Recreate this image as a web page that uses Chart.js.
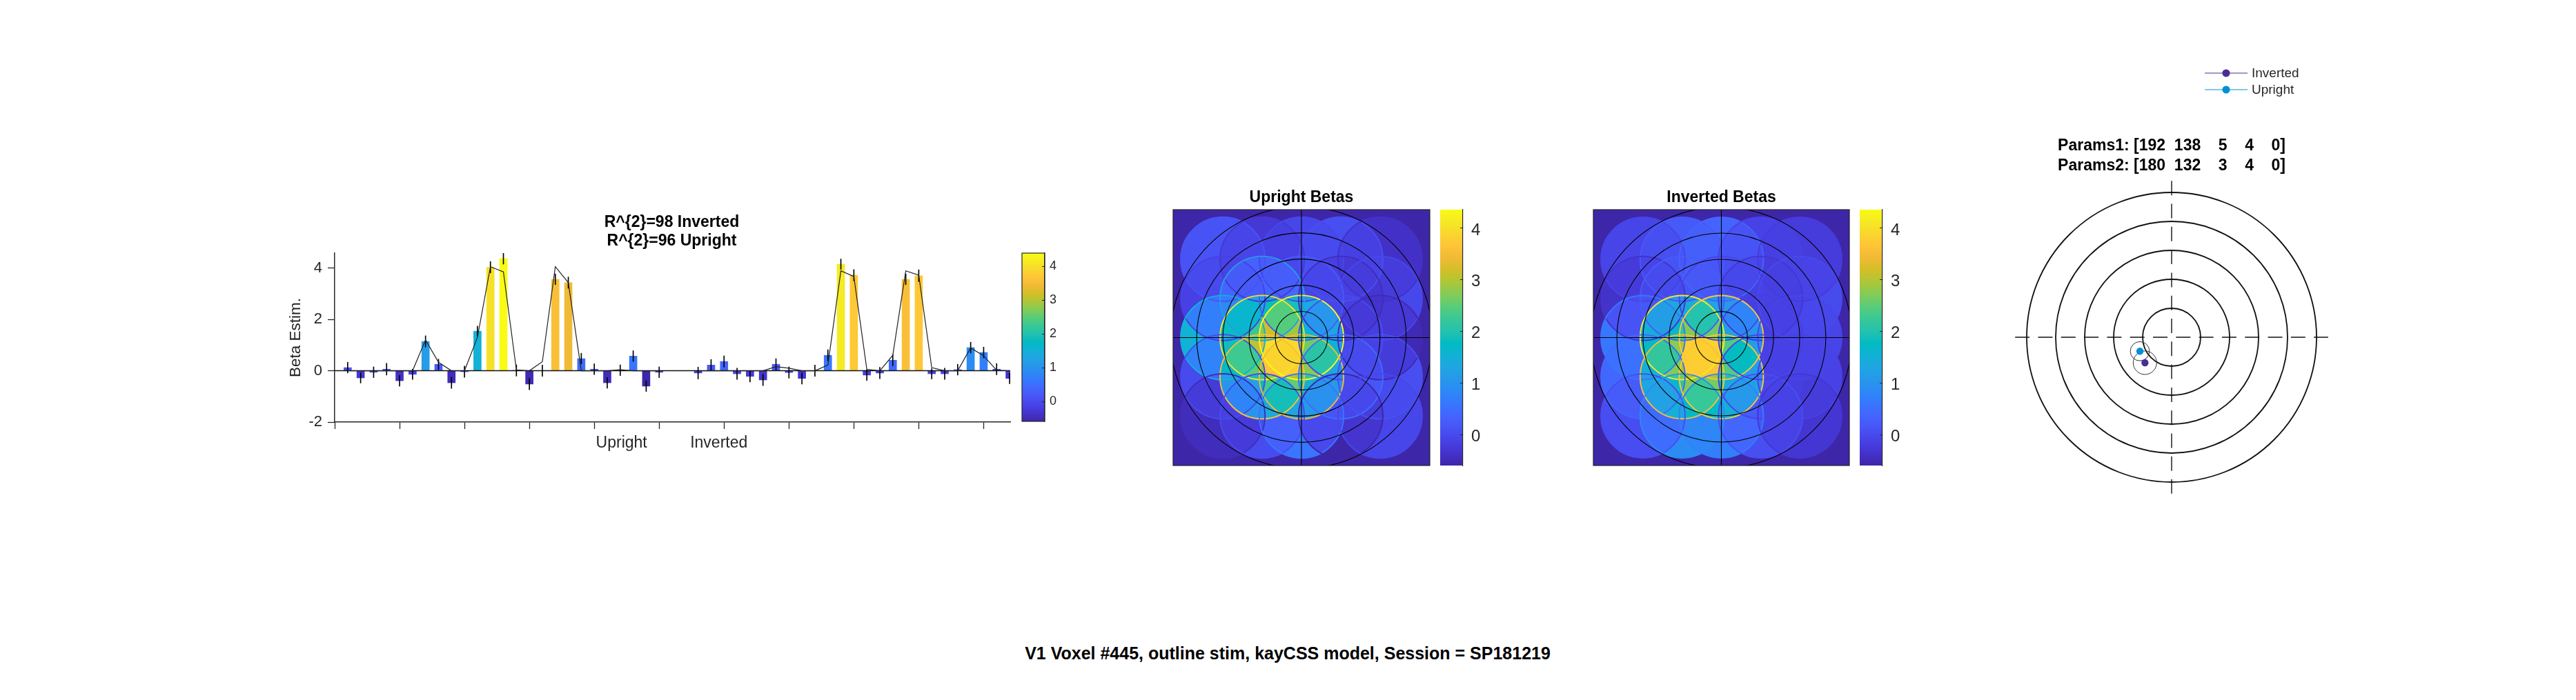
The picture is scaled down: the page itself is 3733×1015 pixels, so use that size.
<!DOCTYPE html>
<html>
<head>
<meta charset="utf-8">
<script src="https://cdn.jsdelivr.net/npm/chart.js@4/dist/chart.umd.js"></script>
<style>
  html, body { margin: 0; padding: 0; background: #fff; width: 3733px; height: 1015px; overflow: hidden; }
  canvas { position: absolute; }
  #supTitle { position: absolute; left: 0; width: 3732px; top: 933px; text-align: center;
    font: bold 25px "Liberation Sans", sans-serif; color: #000; }
</style>
</head>
<body>
<canvas id="barChart"></canvas>
<canvas id="barColorbar"></canvas>
<canvas id="uprightMap"></canvas>
<canvas id="uprightColorbar"></canvas>
<canvas id="invertedMap"></canvas>
<canvas id="invertedColorbar"></canvas>
<canvas id="targetChart"></canvas>
<div id="supTitle">V1 Voxel #445, outline stim, kayCSS model, Session = SP181219</div>
<script>
// betas per stimulus position, row by row on the 5x5 grid
const uprightBetas = [0.12, -0.28, -0.06, 0.06, -0.39, -0.14, 1.14, 0.25, -0.47, -0.04, 1.54, 4.03, 4.37, 0.01, -0.52, 0.0, 3.56, 3.43, 0.47, 0.06, -0.47, 0.02, 0.57, -0.60, -0.06]
const invertedBetas = [-0.09, 0.22, 0.36, -0.12, -0.22, -0.36, 0.25, -0.07, -0.30, 0.0, 0.60, 4.15, 3.72, -0.17, -0.09, 0.41, 3.56, 3.70, -0.12, -0.12, 0.04, 0.90, 0.71, 0.06, -0.30]
const uprightErr = [0.21, 0.2, 0.21, 0.23, 0.21, 0.2, 0.22, 0.2, 0.22, 0.22, 0.2, 0.22, 0.22, 0.22, 0.22, 0.22, 0.21, 0.22, 0.21, 0.21, 0.21, 0.21, 0.21, 0.21, 0.21]
const invertedErr = [0.23, 0.22, 0.22, 0.22, 0.22, 0.22, 0.22, 0.22, 0.22, 0.22, 0.22, 0.2, 0.22, 0.21, 0.22, 0.22, 0.21, 0.23, 0.2, 0.22, 0.21, 0.21, 0.21, 0.22, 0.21]
const uprightFit = [0, 0, 0, 0, 0, 0, 1.2, 0.33, 0, 0, 1.3, 4.05, 3.85, 0.03, 0, 0.35, 4.05, 3.43, 0, 0, 0, 0.04, 0, 0, 0]
const invertedFit = [0, 0, 0, 0, 0, 0, 0.16, 0.10, 0, 0, 0.22, 3.89, 3.67, 0.05, 0, 0.6, 3.89, 3.72, 0.12, 0, 0, 0.89, 0.58, 0.02, 0]
const uprightX = [1, 2, 3, 4, 5, 6, 7, 8, 9, 10, 11, 12, 13, 14, 15, 16, 17, 18, 19, 20, 21, 22, 23, 24, 25]
const invertedX = [28, 29, 30, 31, 32, 33, 34, 35, 36, 37, 38, 39, 40, 41, 42, 43, 44, 45, 46, 47, 48, 49, 50, 51, 52]
const barXTicks = [0, 5, 10, 15, 20, 25, 30, 35, 40, 45, 50]
const barYTicks = [-2, 0, 2, 4]
const groupLabels = ['Upright', 'Inverted']
const groupLabelX = [22.1, 29.6]
const barTitle = ['R^{2}=98 Inverted', 'R^{2}=96 Upright']

const gridCols = [-3, -1.5, 0, 1.5, 3]
const gridRows = [3, 1.5, 0, -1.5, -3]
const stimRadius = 1.61
const ringRadii = [1, 2, 3, 4, 5]
const colorbarTicks = [0, 1, 2, 3, 4]

const pointNames = ['Inverted', 'Upright']
const pointX = [-0.92, -1.095]
const pointY = [-0.88, -0.483]
const pointSpread = [0.405, 0.33]
const pointColors = ['#4b2e95', '#0090d8']
const paramsText = ['Params1: [192  138    5    4    0]', 'Params2: [180  132    3    4    0]']

const cMin = -0.6
const cMax = 4.36
const FONT = '"Liberation Sans", sans-serif'
const INK = '#262626'

// parula, every third entry
const parula = [[.2422,.1504,.6603],[.2647,.1978,.7952],[.2783,.2559,.8991],[.2810,.3228,.9579],[.2699,.3892,.9906],[.2206,.4603,.9973],[.1786,.5289,.9682],[.1540,.5902,.9218],[.1248,.6459,.8883],[.0689,.6948,.8394],[.0067,.7312,.7660],[.1408,.7584,.6842],[.2161,.7843,.5923],[.3406,.8008,.4789],[.5044,.7993,.3480],[.6720,.7793,.2227],[.8203,.7498,.1535],[.9393,.7288,.2100],[.9970,.7659,.2199],[.9786,.8386,.1766],[.9597,.9135,.1423],[.9769,.9839,.0805]]

function parulaRgb(v) {
  const t = Math.min(1, Math.max(0, (v - cMin) / (cMax - cMin))) * (parula.length - 1)
  const i = Math.min(parula.length - 2, Math.floor(t))
  const f = t - i
  return [0, 1, 2].map(k => Math.round(255 * (parula[i][k] + f * (parula[i + 1][k] - parula[i][k]))))
}
const parulaCss = v => { const c = parulaRgb(v); return `rgb(${c[0]},${c[1]},${c[2]})` }

// put a canvas so that its plot area lands on a known box
function place(id, box, m) {
  const c = document.getElementById(id)
  c.width = box.r - box.l + m.l + m.r
  c.height = box.b - box.t + m.t + m.b
  c.style.left = (box.l - m.l) + 'px'
  c.style.top = (box.t - m.t) + 'px'
  c.style.width = c.width + 'px'
  c.style.height = c.height + 'px'
  return c
}

const baseOptions = m => ({
  responsive: false,
  animation: false,
  devicePixelRatio: 1,
  layout: { autoPadding: false, padding: { left: m.l, top: m.t, right: m.r, bottom: m.b } },
  plugins: { legend: { display: false }, tooltip: { enabled: false } },
})

function text(ctx, str, x, y, font, color, align) {
  ctx.save()
  ctx.font = font
  ctx.fillStyle = color || '#000'
  ctx.textAlign = align || 'center'
  ctx.textBaseline = 'middle'
  ctx.fillText(str, x, y)
  ctx.restore()
}

// ---- bars
function drawBarChart() {
  const box = { l: 485, t: 367, r: 1464, b: 612 }
  const m = { l: 85, t: 60, r: 2, b: 50 }
  const canvas = place('barChart', box, m)
  const xy = (xs, ys) => xs.map((x, i) => ({ x, y: ys[i] }))
  const errs = (xs, ys, es) => xs.map((x, i) => ({ x, y: [ys[i] - es[i], ys[i] + es[i]] }))
  const errSet = (xs, ys, es) => ({ type: 'bar', data: errs(xs, ys, es), backgroundColor: '#000', barThickness: 1, grouped: false })
  const barSet = (xs, ys) => ({ type: 'bar', data: xy(xs, ys), backgroundColor: ys.map(parulaCss), barThickness: 11, grouped: false })
  const fitSet = (xs, ys) => ({ type: 'line', data: xy(xs, ys), borderColor: '#222', borderWidth: 1.2, pointRadius: 0, tension: 0 })
  const opts = baseOptions({ l: 0, t: m.t, r: m.r, b: 0 })
  opts.scales = {
    x: {
      type: 'linear', min: 0, max: 52.05, offset: false,
      afterBuildTicks: s => { s.ticks = barXTicks.map(value => ({ value })) },
      afterFit: s => { s.height = m.b },
      grid: { offset: false, drawOnChartArea: false, tickLength: 10, tickColor: INK, tickWidth: 1.3 },
      border: { color: INK, width: 1.5 },
      ticks: { callback: () => '', maxRotation: 0, autoSkip: false },
    },
    y: {
      min: -2, max: 4.58,
      afterBuildTicks: s => { s.ticks = barYTicks.map(value => ({ value })) },
      afterFit: s => { s.width = m.l },
      grid: { drawOnChartArea: false, tickLength: 10, tickColor: INK, tickWidth: 1.3 },
      border: { color: INK, width: 1.5 },
      ticks: { color: INK, padding: 8, font: { family: FONT, size: 22 } },
      title: { display: true, text: 'Beta Estim.', color: INK, padding: { top: 15, bottom: 0 }, font: { family: FONT, size: 22.5 } },
    },
  }
  const labels = {
    id: 'labels',
    afterDraw(chart) {
      const { ctx, scales } = chart
      const cx = (chart.chartArea.left + chart.chartArea.right) / 2
      barTitle.forEach((t, i) => text(ctx, t, cx - 1, 323 + i * 27 - (box.t - m.t), `bold 23px ${FONT}`, '#000'))
      groupLabels.forEach((t, i) => text(ctx, t, scales.x.getPixelForValue(groupLabelX[i]), box.b + 31 - (box.t - m.t), `23px ${FONT}`, INK))
    },
  }
  new Chart(canvas, {
    type: 'bar',
    data: {
      datasets: [
        fitSet(uprightX, uprightFit),
        fitSet(invertedX, invertedFit),
        errSet(uprightX, uprightBetas, uprightErr),
        errSet(invertedX, invertedBetas, invertedErr),
        { type: 'line', data: [{ x: 0, y: 0 }, { x: 52.05, y: 0 }], borderColor: '#111', borderWidth: 1.4, pointRadius: 0 },
        barSet(uprightX, uprightBetas),
        barSet(invertedX, invertedBetas),
      ],
    },
    options: opts,
    plugins: [labels],
  })
}

// ---- colorbars
function drawColorbar(id, box, fontSize, boxed) {
  const m = { l: 2, t: 40, r: 60, b: 40 }
  const canvas = place(id, box, m)
  const opts = baseOptions({ l: m.l, t: m.t, r: 0, b: m.b })
  opts.scales = {
    x: { display: false, min: 0, max: 1 },
    y: {
      position: 'right', min: box.vmin, max: box.vmax,
      afterBuildTicks: s => { s.ticks = colorbarTicks.map(value => ({ value })) },
      afterFit: s => { s.width = m.r },
      grid: { drawOnChartArea: false, tickLength: -4, tickColor: INK, tickWidth: 1 },
      border: { color: INK, width: 1.2 },
      ticks: { color: INK, padding: box.pad, labelOffset: box.shift, font: { family: FONT, size: fontSize } },
    },
  }
  const ramp = {
    id: 'ramp',
    beforeDraw(chart) {
      const { ctx, chartArea: a, scales } = chart
      for (let py = Math.floor(a.top); py < a.bottom; py++) {
        ctx.fillStyle = parulaCss(scales.y.getValueForPixel(py + 0.5))
        ctx.fillRect(a.left, py, a.right - a.left, 1)
      }
    },
    afterDraw(chart) {
      if (!boxed) return
      const { ctx, chartArea: a } = chart
      ctx.strokeStyle = INK
      ctx.lineWidth = 1.2
      ctx.strokeRect(a.left, a.top, a.right - a.left, a.bottom - a.top)
    },
  }
  new Chart(canvas, { type: 'scatter', data: { datasets: [{ data: [] }] }, options: opts, plugins: [ramp] })
}

// ---- beta maps: every pixel is the mean of the stimulus circles covering it
function drawBetaMap(id, box, title, betas) {
  const m = { l: 2, t: 40, r: 2, b: 2 }
  const canvas = place(id, box, m)
  const opts = baseOptions(m)
  const range = 4.9
  opts.scales = {
    x: { display: false, min: -range, max: range },
    y: { display: false, min: -range, max: range },
  }
  const centers = betas.map((b, i) => ({ x: gridCols[i % 5], y: gridRows[Math.floor(i / 5)] }))
  const pxRadius = (ctx, r) => {
    const s = ctx.chart.scales.x
    return r / (s.max - s.min) * s.width
  }
  const field = {
    id: 'field',
    beforeDatasetsDraw(chart) {
      const { ctx, chartArea: a, scales } = chart
      const w = Math.round(a.right - a.left)
      const h = Math.round(a.bottom - a.top)
      const img = ctx.createImageData(w, h)
      for (let py = 0; py < h; py++) {
        const vy = scales.y.getValueForPixel(a.top + py + 0.5)
        for (let px = 0; px < w; px++) {
          const vx = scales.x.getValueForPixel(a.left + px + 0.5)
          let sum = 0
          let n = 0
          centers.forEach((c, i) => {
            const dx = vx - c.x
            const dy = vy - c.y
            if (dx * dx + dy * dy <= stimRadius * stimRadius) { sum += betas[i]; n++ }
          })
          const rgb = parulaRgb(n ? sum / n : cMin)
          const o = (py * w + px) * 4
          img.data[o] = rgb[0]; img.data[o + 1] = rgb[1]; img.data[o + 2] = rgb[2]; img.data[o + 3] = 255
        }
      }
      ctx.putImageData(img, Math.round(a.left), Math.round(a.top))
    },
    afterDraw(chart) {
      const { ctx, chartArea: a } = chart
      ctx.strokeStyle = INK
      ctx.lineWidth = 1.2
      ctx.strokeRect(a.left, a.top, a.right - a.left, a.bottom - a.top)
      text(ctx, title, (a.left + a.right) / 2, a.top - 17, `bold 23px ${FONT}`, '#000')
    },
  }
  new Chart(canvas, {
    type: 'scatter',
    data: {
      datasets: [
        { type: 'line', data: [{ x: -range, y: 0 }, { x: range, y: 0 }], borderColor: '#000', borderWidth: 1.1, pointRadius: 0 },
        { type: 'line', data: [{ x: 0, y: -range }, { x: 0, y: range }], borderColor: '#000', borderWidth: 1.1, pointRadius: 0 },
        {
          data: ringRadii.map(() => ({ x: 0, y: 0 })),
          pointRadius: ctx => pxRadius(ctx, ringRadii[ctx.dataIndex]),
          pointBackgroundColor: 'transparent', pointBorderColor: '#000', pointBorderWidth: 1.1,
        },
        {
          data: centers,
          pointRadius: ctx => pxRadius(ctx, stimRadius),
          pointBackgroundColor: 'transparent',
          pointBorderColor: betas.map(parulaCss),
          pointBorderWidth: 1.9,
        },
      ],
    },
    options: opts,
    plugins: [field],
  })
}

// ---- visual field target with pRF centres
function drawTarget() {
  const box = { l: 2917, t: 259, r: 3377, b: 719 }
  const m = { l: 300, t: 200, r: 40, b: 10 }
  const canvas = place('targetChart', box, m)
  const opts = baseOptions(m)
  const range = 230 / 42
  opts.scales = {
    x: { display: false, min: -range, max: range },
    y: { display: false, min: -range, max: range },
  }
  const reach = 5.4
  const pxRadius = (ctx, r) => {
    const s = ctx.chart.scales.x
    return r / (s.max - s.min) * s.width
  }
  const crossLine = pts => ({ type: 'line', data: pts, borderColor: '#111', borderWidth: 1.4, pointRadius: 0, borderDash: [21, 12.3] })
  const pointSets = pointNames.map((n, i) => ({
    label: n, data: [{ x: pointX[i], y: pointY[i] }],
    pointRadius: 5.2, pointBackgroundColor: pointColors[i], pointBorderWidth: 0,
  }))
  const annotate = {
    id: 'annotate',
    afterDraw(chart) {
      const { ctx } = chart
      const ox = box.l - m.l
      const oy = box.t - m.t
      paramsText.forEach((t, i) => text(ctx, t, 3147 - ox, 212 + i * 29 - oy, `bold 23px ${FONT}`, '#000'))
      pointNames.forEach((n, i) => {
        const y = 106 + i * 24 - oy
        ctx.strokeStyle = pointColors[i]
        ctx.lineWidth = 1
        ctx.beginPath()
        ctx.moveTo(3195 - ox, y)
        ctx.lineTo(3257 - ox, y)
        ctx.stroke()
        ctx.fillStyle = pointColors[i]
        ctx.beginPath()
        ctx.arc(3226 - ox, y, 5.6, 0, Math.PI * 2)
        ctx.fill()
        text(ctx, n, 3263 - ox, y + 1, `19px ${FONT}`, INK, 'left')
      })
    },
  }
  new Chart(canvas, {
    type: 'scatter',
    data: {
      datasets: [
        ...pointSets,
        {
          data: pointX.map((x, i) => ({ x, y: pointY[i] })),
          pointRadius: ctx => pxRadius(ctx, pointSpread[ctx.dataIndex]),
          pointBackgroundColor: 'transparent', pointBorderColor: '#333', pointBorderWidth: 1,
        },
        {
          data: ringRadii.map(() => ({ x: 0, y: 0 })),
          pointRadius: ctx => pxRadius(ctx, ringRadii[ctx.dataIndex]),
          pointBackgroundColor: 'transparent', pointBorderColor: '#111', pointBorderWidth: 1.8,
        },
        crossLine([{ x: -reach, y: 0 }, { x: reach, y: 0 }]),
        crossLine([{ x: 0, y: reach }, { x: 0, y: -reach }]),
      ],
    },
    options: opts,
    plugins: [annotate],
  })
}

drawBarChart()
drawColorbar('barColorbar', { l: 1481, t: 367, r: 1514, b: 611, vmin: -0.59, vmax: 4.39, pad: 11, shift: 0 }, 18, true)
drawBetaMap('uprightMap', { l: 1700, t: 304, r: 2072, b: 675 }, 'Upright Betas', uprightBetas)
drawColorbar('uprightColorbar', { l: 2087, t: 304, r: 2120, b: 675, vmin: -0.6, vmax: 4.36, pad: 16, shift: 3 }, 24, false)
drawBetaMap('invertedMap', { l: 2309, t: 304, r: 2680, b: 675 }, 'Inverted Betas', invertedBetas)
drawColorbar('invertedColorbar', { l: 2695, t: 304, r: 2728, b: 675, vmin: -0.6, vmax: 4.36, pad: 16, shift: 3 }, 24, false)
drawTarget()
</script>
</body>
</html>
